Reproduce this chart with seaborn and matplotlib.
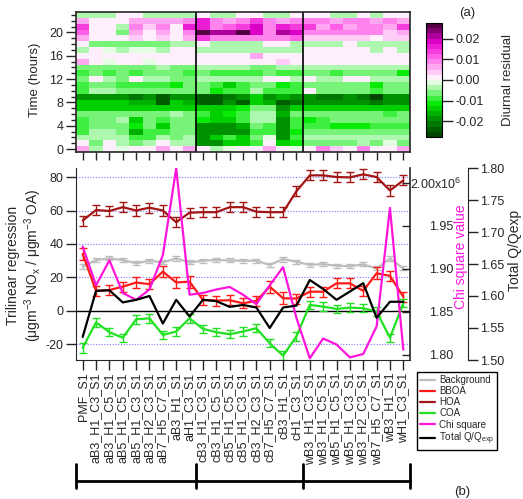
import numpy as np
import pandas as pd
import seaborn as sns
import matplotlib.pyplot as plt
from matplotlib.colors import LinearSegmentedColormap
from matplotlib.lines import Line2D
from matplotlib.transforms import ScaledTranslation

runs = ["PMF_S1",
        "aB3_H1_C3_S1", "aB3_H1_C5_S1", "aB5_H1_C5_S1", "aB5_H1_C3_S1",
        "aB3_H2_C3_S1", "aB7_H5_C7_S1", "aB3_H1_S1", "aH1_C3_S1",
        "cB3_H1_C3_S1", "cB3_H1_C5_S1", "cB5_H1_C5_S1", "cB5_H1_C3_S1",
        "cB3_H2_C3_S1", "cB7_H5_C7_S1", "cB3_H1_S1", "cH1_C3_S1",
        "wB3_H1_C3_S1", "wB3_H1_C5_S1", "wB5_H1_C5_S1", "wB5_H1_C3_S1",
        "wB3_H2_C3_S1", "wB7_H5_C7_S1", "wB3_H1_S1", "wH1_C3_S1"]
group_edges = [-0.5, 8.5, 16.5, 24.5]
hours = list(range(24))

# diurnal residual in units of 0.01, one row per hour (0..23), columns follow runs
residual = [
    [0.5, -0.5, 0, -0.2, 0, 0, 0.5, 0, 0.5, 0, -0.5, -0.2, 0, 0.2, 0.6, 0, -0.1, 0.2, 0.8, 0.3, 0.1, 0.8, 0.1, 0, 0.7],
    [0.1, -0.6, 0, -0.4, -0.7, -0.5, 0, -0.4, -0.5, -1.9, -2.0, -1.4, -1.3, -0.9, 0, -1.4, -1.1, -0.6, -0.6, -0.6, -0.6, -0.3, -0.6, -0.2, -0.6],
    [-0.3, -0.5, -0.3, -0.5, -0.9, -0.8, -0.4, -0.6, -0.5, -2.0, -1.5, -0.9, -1.3, -0.6, -0.1, -1.9, -0.8, -0.5, -0.5, -0.3, -0.5, -0.5, -0.5, -0.5, -0.5],
    [-0.8, -0.5, -0.5, -0.7, -1.6, -0.8, -0.8, -0.6, -0.7, -2.0, -2.0, -1.9, -1.8, -0.8, -0.9, -1.9, -1.2, -0.6, -0.6, -0.6, -0.6, -0.6, -0.6, -0.6, -0.6],
    [-0.8, -0.6, -0.6, -0.7, -1.2, -0.6, -1.3, -0.6, -0.7, -2.0, -2.0, -1.8, -1.6, -0.7, -0.9, -1.9, -1.0, -0.8, -0.8, -1.2, -1.2, -1.2, -0.8, -0.8, -0.8],
    [-0.9, -0.6, -0.6, -0.5, -1.3, -0.7, -0.8, -0.7, -0.7, -1.2, -1.4, -1.4, -1.0, -0.4, -0.5, -1.8, -1.0, -1.2, -0.8, -0.7, -0.7, -0.7, -0.7, -0.7, -0.7],
    [-0.7, -0.6, -0.6, -0.6, -0.7, -0.7, -0.7, -0.5, -0.6, -1.0, -1.3, -1.2, -0.8, -0.4, -0.4, -1.7, -0.7, -0.7, -0.7, -0.7, -0.7, -0.7, -0.7, -1.0, -0.7],
    [-1.3, -1.3, -1.3, -1.3, -1.4, -1.3, -1.5, -1.3, -1.3, -1.3, -1.3, -1.4, -1.2, -0.6, -0.7, -1.8, -1.3, -1.5, -1.3, -1.3, -1.3, -1.3, -1.3, -1.3, -1.3],
    [-1.3, -1.3, -1.3, -1.3, -1.6, -1.7, -2.3, -1.5, -1.7, -2.4, -2.4, -2.0, -2.3, -1.4, -1.6, -2.4, -2.1, -1.8, -2.0, -2.0, -1.8, -2.0, -2.2, -2.0, -2.0],
    [-2.0, -1.9, -1.9, -1.9, -2.1, -1.9, -2.3, -1.8, -2.0, -2.4, -2.4, -2.2, -2.0, -1.4, -1.9, -1.6, -2.0, -2.0, -2.1, -2.1, -2.0, -2.1, -2.5, -2.0, -2.0],
    [-0.8, -0.5, -0.5, -0.7, -0.6, -0.7, -0.7, -0.6, -0.6, -0.7, -1.2, -1.0, -1.0, -0.5, -0.8, -1.0, -0.8, 0, -0.6, -0.6, -0.6, -0.6, -1.0, -0.6, -0.6],
    [-0.9, -0.6, -0.7, -0.8, -0.8, -0.8, -1.0, -1.2, -0.7, -0.6, -1.0, -1.3, -0.8, -0.6, -0.7, -1.1, -0.8, -0.7, -0.7, -0.7, -0.7, -0.7, -1.1, -0.7, -0.7],
    [-0.6, 0, -0.5, -0.6, 0, -0.5, -0.5, -0.6, -0.6, -0.3, -0.5, -0.5, -0.5, -0.5, 0, 0, -0.5, 0, -0.5, -0.5, 0, 0, -0.5, -0.5, -0.5],
    [-0.8, -0.7, -0.9, -0.7, -0.8, -0.7, -0.6, -0.7, -0.8, -0.7, -1.0, -1.0, -1.0, -1.0, -0.6, -1.0, -1.0, -0.7, -0.7, -0.9, -0.7, -0.7, -0.7, -0.7, -1.1],
    [-0.6, -0.6, -0.6, -0.6, -0.6, -0.6, -0.5, -0.6, -0.6, -0.4, -0.4, -0.4, -0.4, -0.6, -0.6, -0.4, -0.4, -0.5, -0.5, -0.5, -0.5, -0.5, -0.5, -0.5, -0.5],
    [0.5, 0, -0.1, 0, 0, -0.1, 0, 0, 0, 0, 0, 0, 0, 0, 0, 0.4, 0, 0, 0, 0, 0, 0, 0.1, 0, 0],
    [0, 0.1, 0, 0, 0, 0.1, 0, 0, 0, 0.1, 0.1, 0.1, 0.1, 0.5, 0.1, 0.1, 0.1, 0, 0, 0, 0, 0, 0, 0, 0],
    [-0.3, 0, -0.2, -0.4, -0.2, -0.1, -0.4, 0, 0, -0.3, -0.3, -0.3, -0.3, -0.3, -0.3, -0.3, -0.5, 0, 0, 0, 0, 0, -0.3, 0, -0.3],
    [0, -0.6, -0.7, -0.7, -0.6, -0.6, -0.6, -0.5, -0.5, 0, -0.3, -0.3, -0.3, -0.3, 0, 0, -0.3, -0.3, -0.3, -0.3, 0, -0.3, -0.3, -0.3, -0.5],
    [0.5, 0, 0, 0, 0.3, 0.2, 0.4, 0.1, 0.5, 1.3, 1.0, 1.0, 1.0, 1.0, 1.0, 1.0, 1.2, 0.4, 0.4, 0.4, 0.4, 0.4, 0.2, 0.4, 0.4],
    [1.2, 0, 0, -0.6, 0.6, 0.1, 0.6, 0, 1.0, 2.5, 2.2, 2.0, 2.6, 1.8, 1.0, 2.2, 1.8, 0.8, 1.0, 0.8, 0.8, 1.0, 1.0, 0.4, 0.5],
    [1.3, 0, 0, -0.5, 0.9, 0.3, 0.9, 0.2, 1.5, 1.5, 1.0, 1.2, 1.3, 1.8, 1.0, 1.5, 1.3, 1.3, 0.6, 1.2, 0.5, 1.0, 0.8, 0.5, 1.3],
    [0.6, 0.1, 0.1, 0.2, 0.6, 0.5, 0.6, 0.5, 0.8, 1.5, 0.8, 0.5, 1.0, 1.3, 1.0, 0.6, 1.0, 1.0, 0.8, 0.6, 1.0, 1.0, 0.6, 0.8, 0.6],
    [-0.4, -0.4, -0.4, 0, 0, -0.4, -0.4, -0.3, -0.4, 0, -0.4, -0.4, 0, 0, -0.4, -0.4, 0.1, 0.1, 0, -0.3, -0.3, 0.1, -0.3, 0, 0],
]

background = [26.5, 30.4, 31.4, 30.4, 28.5, 30.0, 29.0, 31.4, 29.0, 30.0, 30.4, 30.2, 30.0,
              30.0, 27.5, 31.0, 29.4, 27.5, 28.0, 27.0, 26.7, 27.8, 25.4, 31.4, 25.4]
background_err = [1.5, 1.2, 1.2, 1.2, 1.2, 1.2, 1.2, 1.5, 1.2, 1.2, 1.2, 1.2, 1.2,
                  1.2, 1.2, 1.5, 1.2, 1.2, 1.2, 1.2, 1.2, 1.2, 1.2, 1.5, 1.2]
bboa = [34.0, 12.0, 12.5, 14.5, 17.0, 16.0, 23.5, 17.0, 17.5, 6.6, 6.2, 6.4, 4.6,
        6.0, 14.5, 7.6, 7.4, 11.5, 11.5, 16.5, 16.5, 12.0, 22.5, 21.0, 8.5]
bboa_err = [3.5, 3.0, 3.0, 3.0, 3.0, 3.0, 3.5, 3.5, 3.5, 3.0, 3.0, 3.0, 3.0,
            3.0, 3.5, 3.5, 3.0, 3.0, 3.0, 3.0, 3.0, 3.0, 3.5, 3.0, 3.0]
hoa = [54.0, 60.3, 59.7, 62.0, 60.0, 61.7, 60.0, 53.0, 58.7, 59.0, 59.0, 62.0, 62.0,
       59.3, 59.0, 59.0, 71.5, 81.0, 81.0, 80.0, 79.8, 81.6, 80.0, 72.0, 78.0]
hoa_err = [3.0, 3.0, 3.0, 3.0, 3.0, 3.0, 3.0, 3.0, 3.0, 3.0, 3.0, 3.0, 3.0,
           3.0, 3.0, 3.0, 3.0, 3.0, 3.0, 3.0, 3.0, 3.0, 3.0, 3.5, 3.0]
coa = [-22.0, -6.8, -12.7, -16.0, -5.0, -4.4, -14.3, -12.3, -4.4, -10.7, -12.7, -13.9, -12.3,
       -10.3, -19.3, -26.7, -15.2, 3.6, 2.6, 1.2, 2.0, 1.6, -0.4, -16.0, 4.6]
coa_err = [3.0, 2.5, 2.5, 2.5, 2.5, 2.5, 2.5, 2.5, 2.5, 2.5, 2.5, 2.5, 2.5,
           2.5, 2.5, 2.5, 2.5, 2.5, 2.5, 2.5, 2.5, 2.5, 2.5, 2.5, 2.5]
chi_square = [1.926, 1.881, 1.910, 1.872, 1.864, 1.876, 1.916, 2.017, 1.870, 1.872, 1.876, 1.879, 1.870,
              1.859, 1.881, 1.902, 1.843, 1.796, 1.819, 1.812, 1.797, 1.801, 1.833, 1.971, 1.806]
total_q = [1.536, 1.608, 1.609, 1.590, 1.594, 1.600, 1.557, 1.594, 1.568, 1.594, 1.592, 1.583, 1.586,
           1.582, 1.550, 1.582, 1.585, 1.625, 1.611, 1.594, 1.607, 1.620, 1.566, 1.591, 1.591]

sns.set_style("ticks")
plt.rcParams["font.family"] = ["Liberation Sans", "DejaVu Sans"]
plt.rcParams["mathtext.fontset"] = "custom"
plt.rcParams["mathtext.rm"] = "Liberation Sans"
plt.rcParams["mathtext.default"] = "regular"
plt.rcParams["axes.unicode_minus"] = False

W, H = 523, 499
TICK = 9
fig = plt.figure(figsize=(W / 100, H / 100), dpi=100)
ax_h = fig.add_axes([76 / W, 1 - 152 / H, 334 / W, 140 / H])
ax_cb = fig.add_axes([426 / W, 1 - 137 / H, 16 / W, 114 / H])
ax = fig.add_axes([76 / W, 1 - 360 / H, 334 / W, 192 / H])

# ---- (a) diurnal residual heatmap
cmap = LinearSegmentedColormap.from_list("resid", [
    (0.0, (0.0, 0.27, 0.0)),
    (0.136, (0.0, 0.55, 0.0)),
    (0.28, (0.0, 0.92, 0.0)),
    (0.41, (0.6, 0.96, 0.6)),
    (0.5, (1.0, 1.0, 1.0)),
    (0.59, (1.0, 0.75, 0.96)),
    (0.72, (1.0, 0.35, 0.9)),
    (0.85, (0.88, 0.0, 0.8)),
    (1.0, (0.33, 0.0, 0.26)),
], N=22)

res = pd.DataFrame(np.array(residual) * 0.01, index=hours, columns=runs)
sns.heatmap(res, ax=ax_h, cmap=cmap, vmin=-0.0275, vmax=0.0275, cbar_ax=ax_cb,
            xticklabels=False, yticklabels=False)
ax_h.invert_yaxis()
for s in ax_h.spines.values():
    s.set_visible(True)
    s.set_linewidth(1.2)
for xb in group_edges[1:-1]:
    ax_h.axvline(xb + 0.5, color="k", lw=1.2)
ax_h.set_xticks(np.arange(len(runs)) + 0.5, labels=[])
ax_h.set_yticks(np.arange(0, 24, 4) + 0.5, labels=[str(h) for h in range(0, 24, 4)])
ax_h.set_yticks(np.arange(24) + 0.5, minor=True)
ax_h.tick_params(axis="y", which="major", length=7, width=1, labelsize=TICK, pad=2, left=True)
ax_h.tick_params(axis="y", which="minor", length=3.5, width=1, left=True)
ax_h.tick_params(axis="x", length=6, width=1, bottom=True)
ax_h.set_xlabel("")
ax_h.set_ylabel("")
fig.text(35 / W, 1 - 80 / H, "Time (hours)", rotation=90, ha="center", va="center", fontsize=9.5)

cbar = ax_h.collections[0].colorbar
cbar.set_ticks([-0.02, -0.01, 0.0, 0.01, 0.02])
cbar.set_ticklabels(["-0.02", "-0.01", "0.00", "0.01", "0.02"])
ax_cb.tick_params(length=8, width=1, labelsize=TICK, pad=2)
cbar.outline.set_edgecolor("k")
cbar.outline.set_linewidth(0.8)
fig.text(508 / W, 1 - 80 / H, "Diurnal residual", rotation=90, ha="center", va="center", fontsize=9.5)
fig.text(467 / W, 1 - 13 / H, "(a)", ha="center", va="center", fontsize=9.5)

# ---- (b) trilinear regression results
x = np.arange(len(runs))
for yg in [-20, 20, 40, 60, 80]:
    ax.axhline(yg, color="#7b7bff", lw=0.8, ls=(0, (1, 1.5)), zorder=0)
ax.axhline(0, color="k", lw=1, zorder=1)

series = [
    ("Background", background, background_err, "#bdbdbd"),
    ("BBOA", bboa, bboa_err, "#ff1a1a"),
    ("HOA", hoa, hoa_err, "#a31515"),
    ("COA", coa, coa_err, "#22e022"),
]
for name, vals, errs, color in series:
    sns.lineplot(x=x, y=vals, ax=ax, color=color, lw=1.6, legend=False)
    ax.errorbar(x, vals, yerr=errs, fmt="none", ecolor=color, elinewidth=1, capsize=3, capthick=1)

ax.set_xlim(-0.5, len(runs) - 0.5)
ax.set_ylim(-29.3, 85.4)
ax.set_yticks([-20, 0, 20, 40, 60, 80])
ax.set_xticks(x, labels=runs, rotation=90, fontsize=9)
ax.tick_params(axis="y", length=7, width=1, labelsize=TICK, pad=2, left=True)
ax.tick_params(axis="x", length=7, width=1, pad=2, bottom=True)
ax.spines["top"].set_visible(False)
ax.spines["right"].set_visible(False)
ax.set_ylabel("")
fig.text(25 / W, 1 - 265 / H, "Trilinear regression\n(μgm$^{-3}$ NO$_x$ / μgm$^{-3}$ OA)",
         rotation=90, ha="center", va="center", fontsize=10, multialignment="center",
         linespacing=1.15)

ax_chi = ax.twinx()
sns.lineplot(x=x, y=chi_square, ax=ax_chi, color="#ff14dc", lw=1.6, legend=False)
ax_chi.set_ylim(1.794, 2.0174)
ax_chi.set_yticks([1.80, 1.85, 1.90, 1.95, 2.00],
                  labels=["1.80", "1.85", "1.90", "1.95", "2.00x10$^{6}$"])
ax_chi.tick_params(axis="y", direction="in", length=6, width=1, labelsize=TICK, pad=31)
chi_labels = ax_chi.get_yticklabels()
for lab in chi_labels:
    lab.set_ha("right")
# the exponent label sticks out to the right of the column
chi_labels[-1].set_transform(chi_labels[-1].get_transform()
                             + ScaledTranslation(8 / 100, 0, fig.dpi_scale_trans))
for side in ["top", "left", "bottom"]:
    ax_chi.spines[side].set_visible(False)
ax_chi.spines["right"].set_linewidth(1.2)
ax_chi.set_ylabel("")
ax_chi.grid(False)
fig.text(461 / W, 1 - 257 / H, "Chi square value", rotation=90, ha="center", va="center",
         fontsize=10, color="#ff14dc")

ax_q = ax.twinx()
sns.lineplot(x=x, y=total_q, ax=ax_q, color="k", lw=1.6, legend=False)
ax_q.set_ylim(1.5, 1.8)
ax_q.set_yticks([1.50, 1.55, 1.60, 1.65, 1.70, 1.75, 1.80])
ax_q.yaxis.set_major_formatter("{x:.2f}")
ax_q.spines["right"].set_position(("axes", 1 + 58 / 334))
for side in ["top", "left", "bottom"]:
    ax_q.spines[side].set_visible(False)
ax_q.tick_params(axis="y", length=7, width=1, labelsize=TICK, pad=2)
ax_q.set_ylabel("")
fig.text(515 / W, 1 - 250 / H, "Total Q/Qexp", rotation=90, ha="center", va="center", fontsize=10)

# group brackets under the run names
trans = ax.get_xaxis_transform()
for xb in group_edges:
    ax.plot([xb, xb], [-0.54, -0.665], transform=trans, color="k", lw=2, clip_on=False)
ax.plot([group_edges[0], group_edges[-1]], [-0.632, -0.632], transform=trans, color="k", lw=2,
        clip_on=False)
fig.text(462 / W, 1 - 492 / H, "(b)", ha="center", va="center", fontsize=9.5)

handles = [Line2D([], [], color=c, lw=1.6) for c in
           ["#bdbdbd", "#ff1a1a", "#a31515", "#22e022", "#ff14dc", "k"]]
labels = ["Background", "BBOA", "HOA", "COA", "Chi square", "Total Q/Q$_{exp}$"]
leg = fig.legend(handles, labels, loc="upper left", bbox_to_anchor=(417 / W, 1 - 372 / H),
                 fontsize=7, labelspacing=0.12, handlelength=1.6, handletextpad=0.4,
                 borderpad=0.3, borderaxespad=0, fancybox=False, framealpha=1)
leg.get_frame().set_edgecolor("k")
leg.get_frame().set_linewidth(1)

fig.savefig("out.png", dpi=100)
